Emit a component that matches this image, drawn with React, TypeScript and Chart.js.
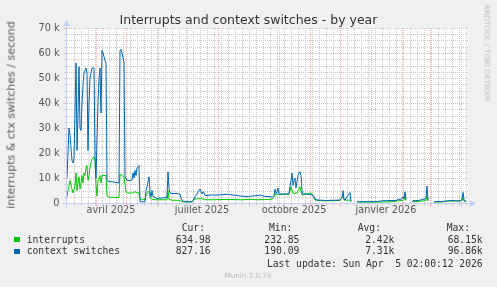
import React, { useEffect, useRef } from "react";
import { Chart, registerables } from "chart.js";

Chart.register(...registerables);

// ---- data (x = days since 3 Mar 2025) ----
const titleText = "Interrupts and context switches - by year";
const yAxisTitle = "interrupts & ctx switches / second";

const monthLabels = ["avril 2025", "juillet 2025", "octobre 2025", "janvier 2026"];
const monthLabelDays = [44, 135, 227, 319];
const monthStartDays = [29, 59, 90, 120, 151, 182, 212, 243, 273, 304, 335, 363, 394];
const lastDay = 401;

const ctxDays = [
  0, 1, 2, 3, 5, 6, 7, 9, 10, 11, 12, 13, 14, 15, 16, 17, 18, 19, 20, 21, 22, 23, 24, 25, 26, 27, 28, 29, 30,
  31, 32, 33, 34, 35, 36, 37, 38, 39, 40, 41, 45, 50, 52, 53, 54, 55, 56, 57, 58, 60, 63, 65, 66, 67, 68, 69,
  70, 71, 72, 73, 75, 78, 79, 80, 82, 83, 84, 85, 86, 87, 90, 95, 100, 101, 102, 103, 105, 110, 113, 114, 115,
  117, 120, 125, 126, 128, 130, 131, 133, 134, 135, 136, 137, 138, 141, 143, 150, 155, 160, 165, 170, 173, 180,
  185, 190, 193, 198, 203, 205, 207, 208, 209, 210, 211, 212, 214, 218, 222, 223, 224, 225, 226, 227, 228, 229,
  230, 231, 232, 233, 234, 235, 236, 240, 245, 247, 248, 250, 255, 260, 265, 270, 273, 275, 276, 277, 278, 280,
  283, 284, 285, 290, 300, 310, 316, 325, 330, 331, 333, 335, 336, 337, 338, 339, 340, 345, 346, 348, 350, 353,
  356, 357, 359, 360, 361, 362, 367, 370, 375, 380, 383, 388, 391, 393, 394, 395, 396, 397, 398, 399,
];
const contextSwitches = [
  10000, 20000, 30000, 27000, 17000, 16000, 18000, 56000, 21000, 35000, 54500, 30000, 29000, 40000, 47000, 52000,
  53000, 54000, 52000, 21000, 40000, 50000, 52000, 54000, 54000, 54000, 18000, 10000, 25000, 40000, 50000, 54000,
  36000, 61000, 60000, 58500, 57000, 56000, 9000, 8700, 8500, 8200, 8000, 61000, 61500, 60000, 58000, 56000, 10500,
  9000, 9000, 9200, 12000, 10000, 13000, 11000, 14000, 14500, 15000, 500, 500, 500, 5000, 6500, 10500, 4500, 2500,
  5000, 2500, 2500, 1800, 2000, 2200, 12500, 6000, 4000, 3800, 3800, 3500, 2000, 1200, 500, 500, 500, 1000, 2500,
  3500, 4500, 5600, 4500, 3600, 4500, 4000, 3000, 3000, 3200, 3200, 3300, 3500, 3200, 3100, 2800, 2600, 2800, 3000,
  3200, 2600, 2600, 2200, 3000, 5500, 3800, 4500, 6000, 3500, 3600, 3600, 3800, 6500, 9000, 12000, 7000, 9000,
  10000, 6000, 8600, 11000, 12000, 12500, 11000, 5000, 3600, 3600, 3200, 2500, 1600, 1200, 1100, 1000, 1100, 1100,
  1200, 2000, 5000, 1500, 1200, 2500, 4200, 600, null, 500, 500, 600, 900, 1000, 1000, 1600, 1300, 1800, 2500,
  1800, 4500, 1500, null, 400, 1000, 900, 1000, 1100, 1600, 1300, 2000, 6800, 1000, null, 500, 600, 600, 800, 1000,
  900, 800, 800, 1200, 1500, 4200, 1500, 600, 800,
];

const intDays = [
  0, 1, 3, 5, 6, 8, 9, 10, 12, 13, 14, 15, 16, 17, 18, 19, 20, 21, 22, 23, 24, 25, 26, 27, 28, 29, 30, 31, 33,
  34, 35, 37, 39, 40, 42, 45, 50, 52, 53, 55, 57, 59, 60, 65, 68, 71, 72, 73, 75, 78, 79, 82, 83, 85, 88, 95, 100,
  101, 102, 105, 110, 113, 115, 120, 125, 127, 130, 135, 138, 145, 155, 165, 175, 183, 190, 198, 205, 207, 208,
  212, 215, 218, 222, 224, 226, 230, 233, 235, 237, 240, 244, 246, 248, 255, 265, 273, 276, 277, 280, 283, 284,
  285, 290, 300, 312, 325, 330, 335, 337, 338, 339, 340, 345, 350, 355, 359, 360, 361, 362, 367, 375, 380, 390,
  395, 396, 397, 399,
];
const interrupts = [
  2500, 5000, 9000, 5500, 4000, 7000, 12000, 5000, 10500, 5500, 8000, 11000, 8000, 12000, 11000, 14000, 15000, 9000,
  11000, 14000, 16000, 17500, 18000, 18500, 17000, 7000, 2800, 9000, 11000, 8000, 11000, 11000, 11000, 2800, 2300,
  2300, 2200, 2200, 11500, 11000, 10500, 4500, 4000, 4000, 4500, 4000, 4000, 1500, 1500, 1400, 3000, 4800, 2000,
  1500, 1300, 1300, 1300, 5000, 1500, 1100, 1100, 1000, 500, 500, 500, 1500, 1700, 1700, 1300, 1300, 1400, 1400,
  1300, 1500, 1300, 1400, 1500, 2500, 3500, 3500, 3400, 3500, 3500, 6500, 3800, 4000, 6500, 3000, 3500, 3800, 4000,
  3000, 1200, 900, 900, 1000, 3000, 1200, 1100, 1200, 500, null, 400, 400, 400, 500, 800, 1000, 1200, 2800, 1000,
  null, 500, 600, 800, 1000, 2800, 800, null, 400, 400, 800, 800, 1000, 1800, 800, 600,
];

const seriesNames = ["interrupts", "context switches"];
const seriesColors = ["#00cc00", "#0066b3"];
const curValues = ["634.98", "827.16"];
const minValues = ["232.85", "190.09"];
const avgValues = ["2.42k", "7.31k"];
const maxValues = ["68.15k", "96.86k"];
const lastUpdate = "Last update: Sun Apr  5 02:00:12 2026";
const muninVersion = "Munin 2.0.76";
const rrdCredit = "RRDTOOL / TOBI OETIKER";

const MINOR = "#cacaca";
const MAJOR = "#efb4b4";
const AXIS = "#c6cef2";

const rrdPlugin = {
  id: "rrdGrid",
  beforeDatasetsDraw(chart: any) {
    const { ctx, chartArea: a, scales } = chart;
    const x = scales.x;
    const y = scales.y;
    const left = a.left;
    const right = x.getPixelForValue(lastDay);
    const top = a.top;
    const bottom = a.bottom;
    ctx.save();
    ctx.fillStyle = "#ffffff";
    ctx.fillRect(left, top, right - left, bottom - top);
    ctx.lineWidth = 1;
    ctx.setLineDash([1, 1]);
    const vline = (d: number) => {
      const px = Math.round(x.getPixelForValue(d)) + 0.5;
      ctx.beginPath();
      ctx.moveTo(px, top);
      ctx.lineTo(px, bottom);
      ctx.stroke();
    };
    const hline = (v: number) => {
      const py = Math.round(y.getPixelForValue(v)) + 0.5;
      ctx.beginPath();
      ctx.moveTo(left, py);
      ctx.lineTo(right, py);
      ctx.stroke();
    };
    ctx.strokeStyle = MINOR;
    for (let d = 7; d < lastDay; d += 7) {
      if (monthStartDays.indexOf(d) === -1) vline(d);
    }
    for (let v = 2500; v <= 70000; v += 2500) {
      if (v % 10000 !== 0) hline(v);
    }
    ctx.strokeStyle = MAJOR;
    monthStartDays.forEach((d) => vline(d));
    for (let v = 10000; v <= 70000; v += 10000) hline(v);
    ctx.restore();
  },
  afterDatasetsDraw(chart: any) {
    const { ctx, chartArea: a, scales } = chart;
    const x = scales.x;
    const y = scales.y;
    const right = x.getPixelForValue(lastDay);
    const ax = Math.round(a.left) - 0.5;
    const ay = Math.round(y.getPixelForValue(0)) + 0.5;
    ctx.save();
    ctx.lineWidth = 1;
    ctx.setLineDash([]);
    ctx.strokeStyle = MINOR;
    for (let d = 7; d < lastDay; d += 7) {
      const px = Math.round(x.getPixelForValue(d)) + 0.5;
      ctx.beginPath();
      ctx.moveTo(px, ay);
      ctx.lineTo(px, ay + 2);
      ctx.stroke();
    }
    for (let v = 2500; v <= 70000; v += 2500) {
      const py = Math.round(y.getPixelForValue(v)) + 0.5;
      ctx.beginPath();
      ctx.moveTo(ax - 2, py);
      ctx.lineTo(ax, py);
      ctx.stroke();
    }
    ctx.strokeStyle = MAJOR;
    monthStartDays.forEach((d) => {
      const px = Math.round(x.getPixelForValue(d)) + 0.5;
      ctx.beginPath();
      ctx.moveTo(px, ay);
      ctx.lineTo(px, ay + 3);
      ctx.stroke();
    });
    for (let v = 10000; v <= 70000; v += 10000) {
      const py = Math.round(y.getPixelForValue(v)) + 0.5;
      ctx.beginPath();
      ctx.moveTo(ax - 3, py);
      ctx.lineTo(ax, py);
      ctx.stroke();
    }
    ctx.strokeStyle = AXIS;
    ctx.fillStyle = AXIS;
    ctx.beginPath();
    ctx.moveTo(ax - 4, ay);
    ctx.lineTo(right + 3, ay);
    ctx.moveTo(ax, ay + 4);
    ctx.lineTo(ax, a.top - 3);
    ctx.stroke();
    ctx.beginPath();
    ctx.moveTo(right + 8, ay);
    ctx.lineTo(right + 2, ay - 3.5);
    ctx.lineTo(right + 2, ay + 3.5);
    ctx.closePath();
    ctx.fill();
    ctx.beginPath();
    ctx.moveTo(ax, a.top - 8);
    ctx.lineTo(ax - 3.5, a.top - 2);
    ctx.lineTo(ax + 3.5, a.top - 2);
    ctx.closePath();
    ctx.fill();
    ctx.restore();
  },
};

const mono = "'DejaVu Sans Mono', monospace";
const sans = "'DejaVu Sans', sans-serif";

function Txt(props: { left?: number; right?: number; top: number; text: string; color?: string }) {
  const style: any = {
    position: "absolute",
    top: props.top,
    font: `9.7px ${mono}`,
    lineHeight: "12px",
    whiteSpace: "pre",
    color: props.color || "#333",
  };
  if (props.right !== undefined) {
    style.right = 497 - props.right;
    style.textAlign = "right";
  } else {
    style.left = props.left;
  }
  return <div style={style}>{props.text}</div>;
}

export default function App() {
  const canvasRef = useRef<HTMLCanvasElement | null>(null);

  useEffect(() => {
    const canvas = canvasRef.current;
    if (!canvas) return;
    const chart = new Chart(canvas, {
      type: "line",
      data: {
        datasets: [
          {
            label: seriesNames[0],
            data: intDays.map((d, i) => ({ x: d, y: interrupts[i] })),
            borderColor: seriesColors[0],
            backgroundColor: seriesColors[0],
            borderWidth: 1,
            pointRadius: 0,
            tension: 0,
            spanGaps: false,
            order: 1,
          },
          {
            label: seriesNames[1],
            data: ctxDays.map((d, i) => ({ x: d, y: contextSwitches[i] })),
            borderColor: seriesColors[1],
            backgroundColor: seriesColors[1],
            borderWidth: 1,
            pointRadius: 0,
            tension: 0,
            spanGaps: false,
            order: 0,
          },
        ],
      },
      options: {
        responsive: false,
        animation: false,
        devicePixelRatio: 1,
        events: [],
        layout: { padding: { left: 0, right: 0, top: 0, bottom: 70 } },
        plugins: {
          legend: { display: false },
          tooltip: { enabled: false },
          title: {
            display: true,
            text: titleText,
            color: "#333",
            font: { family: sans, size: 12.5, weight: "normal", lineHeight: 1.2 },
            padding: { top: 13, bottom: 0 },
          },
        },
        scales: {
          x: {
            type: "linear",
            min: 0,
            max: 430,
            grid: { display: false, drawTicks: false, tickLength: 0 },
            border: { display: false },
            afterBuildTicks: (s: any) => {
              s.ticks = monthLabelDays.map((v) => ({ value: v }));
            },
            afterFit: (s: any) => {
              s.height = 14;
            },
            ticks: {
              autoSkip: false,
              maxRotation: 0,
              minRotation: 0,
              padding: 2,
              color: "#555",
              font: { family: sans, size: 9.7 },
              callback: (_v: any, i: number) => monthLabels[i],
            },
          },
          y: {
            type: "linear",
            min: 0,
            max: 70000,
            grid: { display: false, drawTicks: false, tickLength: 0 },
            border: { display: false },
            afterFit: (s: any) => {
              s.width = 67;
            },
            ticks: {
              stepSize: 10000,
              padding: 7.5,
              color: "#555",
              font: { family: sans, size: 9.7 },
              callback: (v: any) => (v === 0 ? "0" : `${v / 1000} k`),
            },
          },
        },
      } as any,
      plugins: [rrdPlugin],
    });
    return () => chart.destroy();
  }, []);

  const rowTops = [233.6, 245.4];
  return (
    <div
      style={{
        position: "fixed",
        left: 0,
        top: 0,
        width: 497,
        height: 287,
        background: "#f0f0f0",
        overflow: "hidden",
      }}
    >
      <canvas
        ref={canvasRef}
        width={497}
        height={287}
        style={{ position: "absolute", left: 0, top: 0, width: 497, height: 287 }}
      />
      <div
        style={{
          position: "absolute",
          left: 10.5,
          top: 114.5,
          transform: "translate(-50%, -50%) rotate(-90deg)",
          whiteSpace: "nowrap",
          font: `11px ${sans}`,
          color: "#555",
          lineHeight: "13px",
        }}
      >
        {yAxisTitle}
      </div>
      <div
        style={{
          position: "absolute",
          left: 487.3,
          top: 53.3,
          transform: "translate(-50%, -50%) rotate(90deg)",
          whiteSpace: "nowrap",
          font: `7.5px ${sans}`,
          color: "#bbbbbb",
          lineHeight: "9px",
        }}
      >
        {rrdCredit}
      </div>
      <Txt left={181.7} top={221.8} text="Cur:" />
      <Txt left={269} top={221.8} text="Min:" />
      <Txt left={357.7} top={221.8} text="Avg:" />
      <Txt left={446.7} top={221.8} text="Max:" />
      {seriesNames.map((name, i) => (
        <React.Fragment key={name}>
          <div
            style={{
              position: "absolute",
              left: 14,
              top: rowTops[i] + 3.6,
              width: 6,
              height: 5,
              background: seriesColors[i],
            }}
          />
          <Txt left={26.7} top={rowTops[i]} text={name} />
          <Txt right={210.7} top={rowTops[i]} text={curValues[i]} />
          <Txt right={299.3} top={rowTops[i]} text={minValues[i]} />
          <Txt right={394.3} top={rowTops[i]} text={avgValues[i]} />
          <Txt right={482.7} top={rowTops[i]} text={maxValues[i]} />
        </React.Fragment>
      ))}
      <Txt right={482.7} top={257.5} text={lastUpdate} />
      <div
        style={{
          position: "absolute",
          left: 248,
          top: 271.1,
          transform: "translateX(-50%)",
          whiteSpace: "nowrap",
          font: `7.2px ${sans}`,
          lineHeight: "10px",
          color: "#bbbbbb",
        }}
      >
        {muninVersion}
      </div>
    </div>
  );
}
